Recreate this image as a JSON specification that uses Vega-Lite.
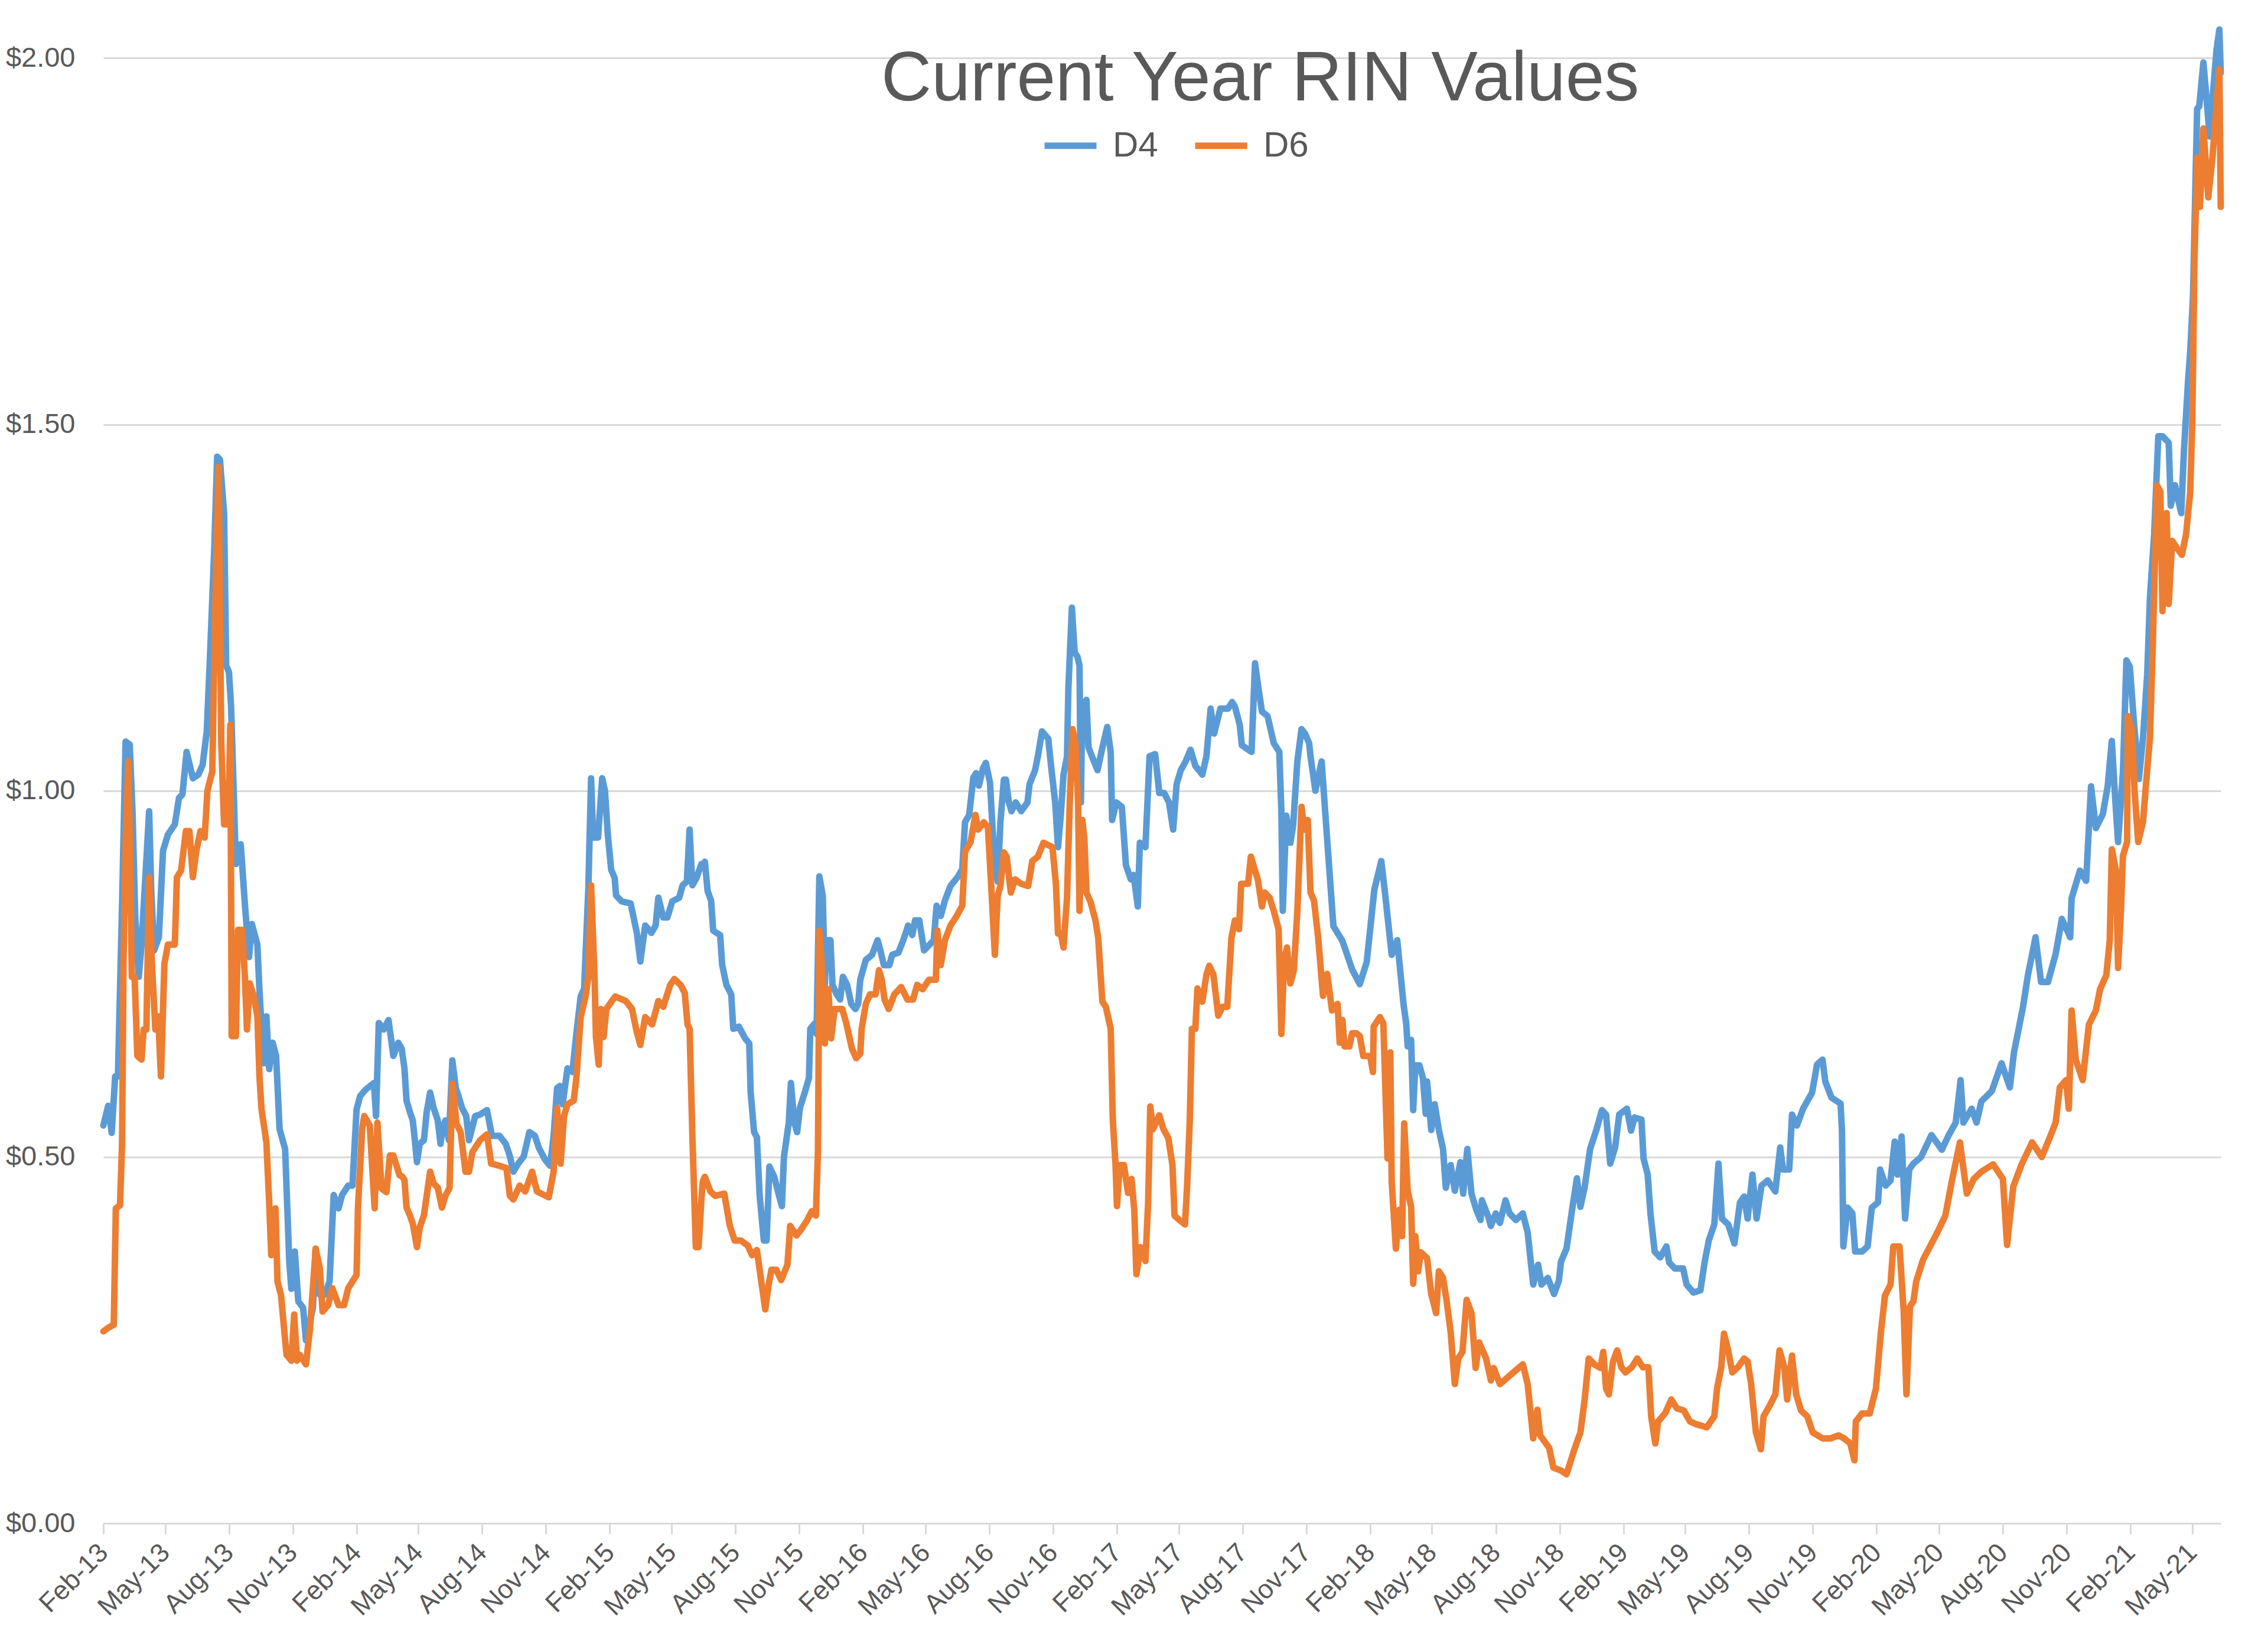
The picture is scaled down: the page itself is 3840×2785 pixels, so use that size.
{
  "$schema": "https://vega.github.io/schema/vega-lite/v6.json",
  "width": 3585,
  "height": 2555,
  "autosize": {"type": "none"},
  "padding": {"left": 175, "top": 24, "right": 80, "bottom": 206},
  "background": "#FFFFFF",
  "config": {
    "view": {"stroke": null},
    "font": "Liberation Sans"
  },
  "title": {
    "text": "Current Year RIN Values",
    "anchor": "start",
    "frame": "group",
    "orient": "top",
    "offset": 0,
    "dx": 1317,
    "dy": 264,
    "baseline": "alphabetic",
    "font": "Liberation Sans",
    "fontSize": 118,
    "fontWeight": "normal",
    "color": "#595959"
  },
  "data": {
    "values": [
      {"d":"2013-02-01","s":"D4","v":0.543},{"d":"2013-02-08","s":"D4","v":0.57},{"d":"2013-02-13","s":"D4","v":0.533},{"d":"2013-02-18","s":"D4","v":0.61},{"d":"2013-02-22","s":"D4","v":0.61},{"d":"2013-02-28","s":"D4","v":0.845},{"d":"2013-03-05","s":"D4","v":1.067},{"d":"2013-03-11","s":"D4","v":1.063},{"d":"2013-03-15","s":"D4","v":0.972},{"d":"2013-03-19","s":"D4","v":0.827},{"d":"2013-03-24","s":"D4","v":0.746},{"d":"2013-03-28","s":"D4","v":0.79},{"d":"2013-04-08","s":"D4","v":0.972},{"d":"2013-04-11","s":"D4","v":0.864},{"d":"2013-04-15","s":"D4","v":0.782},{"d":"2013-04-22","s":"D4","v":0.8},{"d":"2013-04-28","s":"D4","v":0.918},{"d":"2013-05-05","s":"D4","v":0.94},{"d":"2013-05-15","s":"D4","v":0.954},{"d":"2013-05-21","s":"D4","v":0.99},{"d":"2013-05-26","s":"D4","v":0.995},{"d":"2013-06-01","s":"D4","v":1.053},{"d":"2013-06-10","s":"D4","v":1.017},{"d":"2013-06-18","s":"D4","v":1.022},{"d":"2013-06-24","s":"D4","v":1.035},{"d":"2013-06-30","s":"D4","v":1.08},{"d":"2013-07-05","s":"D4","v":1.19},{"d":"2013-07-11","s":"D4","v":1.334},{"d":"2013-07-15","s":"D4","v":1.456},{"d":"2013-07-19","s":"D4","v":1.452},{"d":"2013-07-25","s":"D4","v":1.379},{"d":"2013-07-28","s":"D4","v":1.171},{"d":"2013-08-01","s":"D4","v":1.162},{"d":"2013-08-04","s":"D4","v":1.117},{"d":"2013-08-07","s":"D4","v":1.026},{"d":"2013-08-11","s":"D4","v":0.9},{"d":"2013-08-18","s":"D4","v":0.927},{"d":"2013-08-24","s":"D4","v":0.845},{"d":"2013-08-30","s":"D4","v":0.773},{"d":"2013-09-03","s":"D4","v":0.818},{"d":"2013-09-11","s":"D4","v":0.79},{"d":"2013-09-14","s":"D4","v":0.728},{"d":"2013-09-20","s":"D4","v":0.628},{"d":"2013-09-24","s":"D4","v":0.692},{"d":"2013-09-28","s":"D4","v":0.62},{"d":"2013-10-03","s":"D4","v":0.656},{"d":"2013-10-08","s":"D4","v":0.638},{"d":"2013-10-13","s":"D4","v":0.538},{"d":"2013-10-21","s":"D4","v":0.511},{"d":"2013-10-27","s":"D4","v":0.357},{"d":"2013-10-30","s":"D4","v":0.32},{"d":"2013-11-04","s":"D4","v":0.371},{"d":"2013-11-09","s":"D4","v":0.303},{"d":"2013-11-16","s":"D4","v":0.294},{"d":"2013-11-20","s":"D4","v":0.25},{"d":"2013-11-24","s":"D4","v":0.267},{"d":"2013-11-30","s":"D4","v":0.294},{"d":"2013-12-04","s":"D4","v":0.375},{"d":"2013-12-10","s":"D4","v":0.312},{"d":"2013-12-17","s":"D4","v":0.312},{"d":"2013-12-24","s":"D4","v":0.33},{"d":"2013-12-30","s":"D4","v":0.448},{"d":"2014-01-06","s":"D4","v":0.43},{"d":"2014-01-11","s":"D4","v":0.448},{"d":"2014-01-20","s":"D4","v":0.461},{"d":"2014-01-26","s":"D4","v":0.461},{"d":"2014-02-01","s":"D4","v":0.565},{"d":"2014-02-06","s":"D4","v":0.583},{"d":"2014-02-14","s":"D4","v":0.592},{"d":"2014-02-26","s":"D4","v":0.601},{"d":"2014-03-01","s":"D4","v":0.556},{"d":"2014-03-05","s":"D4","v":0.683},{"d":"2014-03-12","s":"D4","v":0.674},{"d":"2014-03-19","s":"D4","v":0.687},{"d":"2014-03-26","s":"D4","v":0.638},{"d":"2014-04-02","s":"D4","v":0.656},
      {"d":"2014-04-07","s":"D4","v":0.648},{"d":"2014-04-11","s":"D4","v":0.621},{"d":"2014-04-14","s":"D4","v":0.577},{"d":"2014-04-19","s":"D4","v":0.561},{"d":"2014-04-23","s":"D4","v":0.55},{"d":"2014-04-26","s":"D4","v":0.523},{"d":"2014-04-29","s":"D4","v":0.493},{"d":"2014-05-03","s":"D4","v":0.518},{"d":"2014-05-09","s":"D4","v":0.523},{"d":"2014-05-13","s":"D4","v":0.561},{"d":"2014-05-18","s":"D4","v":0.588},{"d":"2014-05-23","s":"D4","v":0.567},{"d":"2014-05-29","s":"D4","v":0.55},{"d":"2014-06-02","s":"D4","v":0.518},{"d":"2014-06-05","s":"D4","v":0.54},{"d":"2014-06-09","s":"D4","v":0.55},{"d":"2014-06-14","s":"D4","v":0.523},{"d":"2014-06-19","s":"D4","v":0.632},{"d":"2014-06-24","s":"D4","v":0.594},{"d":"2014-06-28","s":"D4","v":0.583},{"d":"2014-07-03","s":"D4","v":0.567},{"d":"2014-07-09","s":"D4","v":0.556},{"d":"2014-07-13","s":"D4","v":0.523},{"d":"2014-07-22","s":"D4","v":0.556},{"d":"2014-07-29","s":"D4","v":0.558},{"d":"2014-08-08","s":"D4","v":0.564},{"d":"2014-08-15","s":"D4","v":0.529},{"d":"2014-08-26","s":"D4","v":0.529},{"d":"2014-09-04","s":"D4","v":0.518},{"d":"2014-09-10","s":"D4","v":0.501},{"d":"2014-09-15","s":"D4","v":0.48},{"d":"2014-09-22","s":"D4","v":0.491},{"d":"2014-09-30","s":"D4","v":0.501},{"d":"2014-10-08","s":"D4","v":0.534},{"d":"2014-10-16","s":"D4","v":0.529},{"d":"2014-10-22","s":"D4","v":0.512},{"d":"2014-10-31","s":"D4","v":0.496},{"d":"2014-11-07","s":"D4","v":0.488},{"d":"2014-11-12","s":"D4","v":0.529},{"d":"2014-11-17","s":"D4","v":0.594},{"d":"2014-11-21","s":"D4","v":0.597},{"d":"2014-11-25","s":"D4","v":0.572},{"d":"2014-12-02","s":"D4","v":0.621},{"d":"2014-12-09","s":"D4","v":0.616},{"d":"2014-12-15","s":"D4","v":0.67},{"d":"2014-12-21","s":"D4","v":0.719},{"d":"2014-12-26","s":"D4","v":0.73},{"d":"2015-01-01","s":"D4","v":0.865},{"d":"2015-01-05","s":"D4","v":1.017},{"d":"2015-01-08","s":"D4","v":0.936},{"d":"2015-01-15","s":"D4","v":0.936},{"d":"2015-01-21","s":"D4","v":1.017},{"d":"2015-01-25","s":"D4","v":1.0},{"d":"2015-01-29","s":"D4","v":0.941},{"d":"2015-02-03","s":"D4","v":0.892},{"d":"2015-02-08","s":"D4","v":0.881},{"d":"2015-02-10","s":"D4","v":0.857},{"d":"2015-02-18","s":"D4","v":0.849},{"d":"2015-03-03","s":"D4","v":0.846},{"d":"2015-03-12","s":"D4","v":0.806},{"d":"2015-03-17","s":"D4","v":0.767},{"d":"2015-03-24","s":"D4","v":0.816},{"d":"2015-04-02","s":"D4","v":0.806},{"d":"2015-04-08","s":"D4","v":0.816},{"d":"2015-04-12","s":"D4","v":0.854},{"d":"2015-04-19","s":"D4","v":0.827},{"d":"2015-04-25","s":"D4","v":0.827},{"d":"2015-05-02","s":"D4","v":0.849},{"d":"2015-05-12","s":"D4","v":0.854},{"d":"2015-05-17","s":"D4","v":0.871},{"d":"2015-05-23","s":"D4","v":0.876},{"d":"2015-05-27","s":"D4","v":0.947},{"d":"2015-05-31","s":"D4","v":0.871},{"d":"2015-06-06","s":"D4","v":0.881},{"d":"2015-06-13","s":"D4","v":0.9},
      {"d":"2015-06-15","s":"D4","v":0.897},{"d":"2015-06-18","s":"D4","v":0.903},{"d":"2015-06-22","s":"D4","v":0.863},{"d":"2015-06-27","s":"D4","v":0.85},{"d":"2015-06-30","s":"D4","v":0.809},{"d":"2015-07-10","s":"D4","v":0.803},{"d":"2015-07-13","s":"D4","v":0.762},{"d":"2015-07-19","s":"D4","v":0.735},{"d":"2015-07-26","s":"D4","v":0.722},{"d":"2015-07-29","s":"D4","v":0.675},{"d":"2015-08-06","s":"D4","v":0.678},{"d":"2015-08-15","s":"D4","v":0.662},{"d":"2015-08-21","s":"D4","v":0.655},{"d":"2015-08-23","s":"D4","v":0.588},{"d":"2015-08-28","s":"D4","v":0.534},{"d":"2015-09-01","s":"D4","v":0.527},{"d":"2015-09-05","s":"D4","v":0.447},{"d":"2015-09-11","s":"D4","v":0.386},{"d":"2015-09-15","s":"D4","v":0.386},{"d":"2015-09-19","s":"D4","v":0.487},{"d":"2015-09-26","s":"D4","v":0.473},{"d":"2015-10-03","s":"D4","v":0.447},{"d":"2015-10-07","s":"D4","v":0.433},{"d":"2015-10-10","s":"D4","v":0.5},{"d":"2015-10-17","s":"D4","v":0.547},{"d":"2015-10-20","s":"D4","v":0.601},{"d":"2015-10-25","s":"D4","v":0.547},{"d":"2015-10-29","s":"D4","v":0.534},{"d":"2015-11-02","s":"D4","v":0.567},{"d":"2015-11-09","s":"D4","v":0.588},{"d":"2015-11-15","s":"D4","v":0.608},{"d":"2015-11-17","s":"D4","v":0.675},{"d":"2015-11-23","s":"D4","v":0.682},{"d":"2015-11-26","s":"D4","v":0.668},{"d":"2015-11-30","s":"D4","v":0.883},{"d":"2015-12-05","s":"D4","v":0.856},{"d":"2015-12-08","s":"D4","v":0.735},{"d":"2015-12-10","s":"D4","v":0.796},{"d":"2015-12-16","s":"D4","v":0.796},{"d":"2015-12-19","s":"D4","v":0.735},{"d":"2015-12-25","s":"D4","v":0.722},{"d":"2015-12-30","s":"D4","v":0.715},{"d":"2016-01-03","s":"D4","v":0.746},{"d":"2016-01-09","s":"D4","v":0.735},{"d":"2016-01-15","s":"D4","v":0.709},{"d":"2016-01-21","s":"D4","v":0.702},{"d":"2016-01-25","s":"D4","v":0.709},{"d":"2016-01-28","s":"D4","v":0.742},{"d":"2016-02-05","s":"D4","v":0.769},{"d":"2016-02-14","s":"D4","v":0.776},{"d":"2016-02-22","s":"D4","v":0.796},{"d":"2016-02-26","s":"D4","v":0.782},{"d":"2016-03-02","s":"D4","v":0.762},{"d":"2016-03-10","s":"D4","v":0.762},{"d":"2016-03-14","s":"D4","v":0.776},{"d":"2016-03-23","s":"D4","v":0.779},{"d":"2016-03-30","s":"D4","v":0.796},{"d":"2016-04-06","s":"D4","v":0.816},{"d":"2016-04-12","s":"D4","v":0.803},{"d":"2016-04-16","s":"D4","v":0.823},{"d":"2016-04-22","s":"D4","v":0.823},{"d":"2016-04-29","s":"D4","v":0.782},{"d":"2016-05-06","s":"D4","v":0.789},{"d":"2016-05-13","s":"D4","v":0.796},{"d":"2016-05-17","s":"D4","v":0.843},{"d":"2016-05-23","s":"D4","v":0.829},{"d":"2016-05-29","s":"D4","v":0.85},{"d":"2016-06-06","s":"D4","v":0.87},{"d":"2016-06-17","s":"D4","v":0.883},{"d":"2016-06-23","s":"D4","v":0.893},{"d":"2016-06-27","s":"D4","v":0.957},{"d":"2016-07-03","s":"D4","v":0.967},{"d":"2016-07-09","s":"D4","v":1.018},{"d":"2016-07-13","s":"D4","v":1.024},{"d":"2016-07-17","s":"D4","v":1.007},{"d":"2016-07-23","s":"D4","v":1.031},{"d":"2016-07-27","s":"D4","v":1.038},{"d":"2016-08-02","s":"D4","v":1.011},{"d":"2016-08-08","s":"D4","v":0.91},{"d":"2016-08-13","s":"D4","v":0.876},{"d":"2016-08-17","s":"D4","v":0.957},
      {"d":"2016-08-22","s":"D4","v":1.015},{"d":"2016-08-25","s":"D4","v":1.015},{"d":"2016-08-29","s":"D4","v":0.985},{"d":"2016-09-02","s":"D4","v":0.972},{"d":"2016-09-08","s":"D4","v":0.984},{"d":"2016-09-16","s":"D4","v":0.972},{"d":"2016-09-25","s":"D4","v":0.984},{"d":"2016-09-28","s":"D4","v":1.009},{"d":"2016-10-06","s":"D4","v":1.028},{"d":"2016-10-10","s":"D4","v":1.047},{"d":"2016-10-16","s":"D4","v":1.081},{"d":"2016-10-25","s":"D4","v":1.071},{"d":"2016-10-29","s":"D4","v":1.034},{"d":"2016-11-04","s":"D4","v":0.984},{"d":"2016-11-08","s":"D4","v":0.923},{"d":"2016-11-12","s":"D4","v":0.966},{"d":"2016-11-16","s":"D4","v":1.022},{"d":"2016-11-21","s":"D4","v":1.047},{"d":"2016-11-23","s":"D4","v":1.14},{"d":"2016-11-28","s":"D4","v":1.25},{"d":"2016-12-02","s":"D4","v":1.189},{"d":"2016-12-06","s":"D4","v":1.183},{"d":"2016-12-09","s":"D4","v":1.171},{"d":"2016-12-11","s":"D4","v":0.984},{"d":"2016-12-13","s":"D4","v":1.115},{"d":"2016-12-19","s":"D4","v":1.124},{"d":"2016-12-22","s":"D4","v":1.059},{"d":"2016-12-27","s":"D4","v":1.047},{"d":"2017-01-04","s":"D4","v":1.028},{"d":"2017-01-11","s":"D4","v":1.059},{"d":"2017-01-18","s":"D4","v":1.087},{"d":"2017-01-23","s":"D4","v":1.053},{"d":"2017-01-25","s":"D4","v":0.96},{"d":"2017-01-31","s":"D4","v":0.984},{"d":"2017-02-08","s":"D4","v":0.978},{"d":"2017-02-14","s":"D4","v":0.898},{"d":"2017-02-21","s":"D4","v":0.879},{"d":"2017-02-25","s":"D4","v":0.885},{"d":"2017-03-03","s":"D4","v":0.842},{"d":"2017-03-06","s":"D4","v":0.929},{"d":"2017-03-14","s":"D4","v":0.923},{"d":"2017-03-20","s":"D4","v":1.047},{"d":"2017-03-28","s":"D4","v":1.05},{"d":"2017-04-03","s":"D4","v":0.997},{"d":"2017-04-10","s":"D4","v":0.997},{"d":"2017-04-17","s":"D4","v":0.984},{"d":"2017-04-23","s":"D4","v":0.947},{"d":"2017-04-28","s":"D4","v":1.009},{"d":"2017-05-04","s":"D4","v":1.028},{"d":"2017-05-11","s":"D4","v":1.04},{"d":"2017-05-18","s":"D4","v":1.056},{"d":"2017-05-25","s":"D4","v":1.034},{"d":"2017-06-04","s":"D4","v":1.022},{"d":"2017-06-10","s":"D4","v":1.047},{"d":"2017-06-16","s":"D4","v":1.112},{"d":"2017-06-21","s":"D4","v":1.078},{"d":"2017-06-30","s":"D4","v":1.112},{"d":"2017-07-11","s":"D4","v":1.112},{"d":"2017-07-17","s":"D4","v":1.121},{"d":"2017-07-21","s":"D4","v":1.115},{"d":"2017-07-28","s":"D4","v":1.09},{"d":"2017-07-31","s":"D4","v":1.062},{"d":"2017-08-14","s":"D4","v":1.053},{"d":"2017-08-19","s":"D4","v":1.174},{"d":"2017-08-23","s":"D4","v":1.146},{"d":"2017-08-29","s":"D4","v":1.108},{"d":"2017-09-06","s":"D4","v":1.102},{"d":"2017-09-15","s":"D4","v":1.065},{"d":"2017-09-23","s":"D4","v":1.053},{"d":"2017-09-26","s":"D4","v":0.972},{"d":"2017-09-28","s":"D4","v":0.836},{"d":"2017-10-03","s":"D4","v":0.966},{"d":"2017-10-09","s":"D4","v":0.929},{"d":"2017-10-13","s":"D4","v":0.953},{"d":"2017-10-19","s":"D4","v":1.04},{"d":"2017-10-25","s":"D4","v":1.084},{"d":"2017-10-30","s":"D4","v":1.078},{"d":"2017-11-05","s":"D4","v":1.065},{"d":"2017-11-07","s":"D4","v":1.047},
      {"d":"2017-11-14","s":"D4","v":1.0},{"d":"2017-11-23","s":"D4","v":1.04},{"d":"2017-12-02","s":"D4","v":0.92},{"d":"2017-12-10","s":"D4","v":0.815},{"d":"2017-12-23","s":"D4","v":0.795},{"d":"2018-01-06","s":"D4","v":0.756},{"d":"2018-01-17","s":"D4","v":0.736},{"d":"2018-01-27","s":"D4","v":0.766},{"d":"2018-02-07","s":"D4","v":0.865},{"d":"2018-02-17","s":"D4","v":0.904},{"d":"2018-02-23","s":"D4","v":0.855},{"d":"2018-03-04","s":"D4","v":0.776},{"d":"2018-03-12","s":"D4","v":0.796},
      {"d":"2018-03-21","s":"D4","v":0.709},{"d":"2018-03-25","s":"D4","v":0.682},{"d":"2018-03-27","s":"D4","v":0.651},{"d":"2018-04-01","s":"D4","v":0.66},{"d":"2018-04-04","s":"D4","v":0.564},{"d":"2018-04-07","s":"D4","v":0.625},{"d":"2018-04-13","s":"D4","v":0.625},{"d":"2018-04-18","s":"D4","v":0.608},{"d":"2018-04-22","s":"D4","v":0.559},{"d":"2018-04-24","s":"D4","v":0.603},{"d":"2018-04-30","s":"D4","v":0.537},{"d":"2018-05-05","s":"D4","v":0.572},{"d":"2018-05-11","s":"D4","v":0.537},{"d":"2018-05-17","s":"D4","v":0.511},{"d":"2018-05-21","s":"D4","v":0.458},{"d":"2018-05-28","s":"D4","v":0.489},{"d":"2018-06-03","s":"D4","v":0.454},{"d":"2018-06-11","s":"D4","v":0.493},{"d":"2018-06-15","s":"D4","v":0.45},{"d":"2018-06-21","s":"D4","v":0.511},{"d":"2018-06-27","s":"D4","v":0.45},{"d":"2018-07-04","s":"D4","v":0.428},{"d":"2018-07-10","s":"D4","v":0.414},{"d":"2018-07-12","s":"D4","v":0.441},{"d":"2018-07-21","s":"D4","v":0.419},{"d":"2018-07-25","s":"D4","v":0.406},{"d":"2018-08-01","s":"D4","v":0.423},{"d":"2018-08-07","s":"D4","v":0.41},{"d":"2018-08-15","s":"D4","v":0.441},{"d":"2018-08-21","s":"D4","v":0.423},{"d":"2018-08-30","s":"D4","v":0.414},{"d":"2018-09-09","s":"D4","v":0.423},{"d":"2018-09-16","s":"D4","v":0.397},{"d":"2018-09-24","s":"D4","v":0.326},{"d":"2018-10-01","s":"D4","v":0.353},{"d":"2018-10-06","s":"D4","v":0.326},{"d":"2018-10-15","s":"D4","v":0.335},{"d":"2018-10-24","s":"D4","v":0.313},{"d":"2018-10-31","s":"D4","v":0.331},{"d":"2018-11-03","s":"D4","v":0.357},{"d":"2018-11-11","s":"D4","v":0.375},{"d":"2018-11-19","s":"D4","v":0.428},{"d":"2018-11-26","s":"D4","v":0.471},{"d":"2018-12-01","s":"D4","v":0.432},{"d":"2018-12-07","s":"D4","v":0.458},{"d":"2018-12-15","s":"D4","v":0.511},{"d":"2018-12-24","s":"D4","v":0.537},{"d":"2019-01-01","s":"D4","v":0.564},
      {"d":"2019-01-07","s":"D4","v":0.558},{"d":"2019-01-13","s":"D4","v":0.491},{"d":"2019-01-20","s":"D4","v":0.513},{"d":"2019-01-26","s":"D4","v":0.558},{"d":"2019-02-06","s":"D4","v":0.566},{"d":"2019-02-12","s":"D4","v":0.536},{"d":"2019-02-17","s":"D4","v":0.554},{"d":"2019-02-27","s":"D4","v":0.551},{"d":"2019-03-02","s":"D4","v":0.498},{"d":"2019-03-08","s":"D4","v":0.476},{"d":"2019-03-12","s":"D4","v":0.423},{"d":"2019-03-18","s":"D4","v":0.371},{"d":"2019-03-26","s":"D4","v":0.363},{"d":"2019-04-04","s":"D4","v":0.378},{"d":"2019-04-08","s":"D4","v":0.356},{"d":"2019-04-16","s":"D4","v":0.348},{"d":"2019-04-28","s":"D4","v":0.348},{"d":"2019-05-03","s":"D4","v":0.326},{"d":"2019-05-13","s":"D4","v":0.315},{"d":"2019-05-23","s":"D4","v":0.318},{"d":"2019-05-29","s":"D4","v":0.356},{"d":"2019-06-04","s":"D4","v":0.386},{"d":"2019-06-12","s":"D4","v":0.408},{"d":"2019-06-18","s":"D4","v":0.491},{"d":"2019-06-23","s":"D4","v":0.416},{"d":"2019-07-02","s":"D4","v":0.408},{"d":"2019-07-11","s":"D4","v":0.382},{"d":"2019-07-19","s":"D4","v":0.438},{"d":"2019-07-25","s":"D4","v":0.446},{"d":"2019-07-30","s":"D4","v":0.416},{"d":"2019-08-06","s":"D4","v":0.476},{"d":"2019-08-12","s":"D4","v":0.416},{"d":"2019-08-19","s":"D4","v":0.461},{"d":"2019-08-28","s":"D4","v":0.468},{"d":"2019-09-08","s":"D4","v":0.453},{"d":"2019-09-15","s":"D4","v":0.513},{"d":"2019-09-19","s":"D4","v":0.483},{"d":"2019-09-28","s":"D4","v":0.483},{"d":"2019-10-02","s":"D4","v":0.558},{"d":"2019-10-09","s":"D4","v":0.543},{"d":"2019-10-18","s":"D4","v":0.566},{"d":"2019-10-31","s":"D4","v":0.588},{"d":"2019-11-07","s":"D4","v":0.626},{"d":"2019-11-15","s":"D4","v":0.633},{"d":"2019-11-19","s":"D4","v":0.603},{"d":"2019-11-28","s":"D4","v":0.581},{"d":"2019-12-11","s":"D4","v":0.573},{"d":"2019-12-13","s":"D4","v":0.536},{"d":"2019-12-15","s":"D4","v":0.378},{"d":"2019-12-21","s":"D4","v":0.431},{"d":"2019-12-28","s":"D4","v":0.423},{"d":"2020-01-01","s":"D4","v":0.371},{"d":"2020-01-11","s":"D4","v":0.371},{"d":"2020-01-19","s":"D4","v":0.378},{"d":"2020-01-25","s":"D4","v":0.431},{"d":"2020-02-03","s":"D4","v":0.438},{"d":"2020-02-06","s":"D4","v":0.483},{"d":"2020-02-14","s":"D4","v":0.461},{"d":"2020-02-21","s":"D4","v":0.468},{"d":"2020-02-27","s":"D4","v":0.521},{"d":"2020-03-02","s":"D4","v":0.476},{"d":"2020-03-08","s":"D4","v":0.528},{"d":"2020-03-13","s":"D4","v":0.416},{"d":"2020-03-19","s":"D4","v":0.483},{"d":"2020-03-25","s":"D4","v":0.491},
      {"d":"2020-04-05","s":"D4","v":0.5},{"d":"2020-04-20","s":"D4","v":0.53},{"d":"2020-05-05","s":"D4","v":0.51},{"d":"2020-05-15","s":"D4","v":0.53},{"d":"2020-05-25","s":"D4","v":0.547},{"d":"2020-06-01","s":"D4","v":0.605},{"d":"2020-06-05","s":"D4","v":0.547},{"d":"2020-06-17","s":"D4","v":0.566},{"d":"2020-06-24","s":"D4","v":0.547},{"d":"2020-07-01","s":"D4","v":0.576},{"d":"2020-07-16","s":"D4","v":0.59},{"d":"2020-07-30","s":"D4","v":0.628},{"d":"2020-08-11","s":"D4","v":0.595},{"d":"2020-08-17","s":"D4","v":0.643},{"d":"2020-08-25","s":"D4","v":0.681},{"d":"2020-08-30","s":"D4","v":0.705},{"d":"2020-09-06","s":"D4","v":0.748},{"d":"2020-09-17","s":"D4","v":0.8},{"d":"2020-09-25","s":"D4","v":0.739},{"d":"2020-10-05","s":"D4","v":0.739},{"d":"2020-10-16","s":"D4","v":0.777},{"d":"2020-10-25","s":"D4","v":0.825},{"d":"2020-11-06","s":"D4","v":0.8},{"d":"2020-11-08","s":"D4","v":0.853},{"d":"2020-11-20","s":"D4","v":0.891},{"d":"2020-11-29","s":"D4","v":0.877},{"d":"2020-12-06","s":"D4","v":1.006},{"d":"2020-12-13","s":"D4","v":0.949},{"d":"2020-12-23","s":"D4","v":0.968},{"d":"2020-12-30","s":"D4","v":1.006},{"d":"2021-01-05","s":"D4","v":1.068},{"d":"2021-01-10","s":"D4","v":0.987},{"d":"2021-01-14","s":"D4","v":0.93},{"d":"2021-01-21","s":"D4","v":1.025},{"d":"2021-01-26","s":"D4","v":1.178},{"d":"2021-01-31","s":"D4","v":1.169},{"d":"2021-02-06","s":"D4","v":1.092},{"d":"2021-02-13","s":"D4","v":1.016},{"d":"2021-02-19","s":"D4","v":1.073},{"d":"2021-02-25","s":"D4","v":1.159},{"d":"2021-03-01","s":"D4","v":1.264},{"d":"2021-03-07","s":"D4","v":1.35},{"d":"2021-03-13","s":"D4","v":1.484},{"d":"2021-03-19","s":"D4","v":1.484},{"d":"2021-03-28","s":"D4","v":1.475},{"d":"2021-03-31","s":"D4","v":1.389},{"d":"2021-04-06","s":"D4","v":1.417},{"d":"2021-04-15","s":"D4","v":1.379},{"d":"2021-04-19","s":"D4","v":1.465},{"d":"2021-04-25","s":"D4","v":1.561},{"d":"2021-04-28","s":"D4","v":1.599},{"d":"2021-05-02","s":"D4","v":1.675},{"d":"2021-05-06","s":"D4","v":1.85},{"d":"2021-05-08","s":"D4","v":1.931},{"d":"2021-05-11","s":"D4","v":1.934},{"d":"2021-05-17","s":"D4","v":1.994},{"d":"2021-05-21","s":"D4","v":1.95},{"d":"2021-05-26","s":"D4","v":1.893},{"d":"2021-05-30","s":"D4","v":1.943},{"d":"2021-06-05","s":"D4","v":2.012},{"d":"2021-06-09","s":"D4","v":2.039},{"d":"2021-06-11","s":"D4","v":1.98},

      {"d":"2013-02-01","s":"D6","v":0.262},{"d":"2013-02-08","s":"D6","v":0.267},{"d":"2013-02-16","s":"D6","v":0.271},{"d":"2013-02-19","s":"D6","v":0.43},{"d":"2013-02-25","s":"D6","v":0.434},{"d":"2013-02-28","s":"D6","v":0.52},{"d":"2013-03-02","s":"D6","v":0.764},{"d":"2013-03-05","s":"D6","v":0.927},{"d":"2013-03-09","s":"D6","v":1.04},{"d":"2013-03-12","s":"D6","v":0.882},{"d":"2013-03-14","s":"D6","v":0.746},{"d":"2013-03-18","s":"D6","v":0.746},{"d":"2013-03-22","s":"D6","v":0.638},{"d":"2013-03-28","s":"D6","v":0.633},{"d":"2013-03-31","s":"D6","v":0.674},{"d":"2013-04-04","s":"D6","v":0.674},{"d":"2013-04-08","s":"D6","v":0.882},{"d":"2013-04-12","s":"D6","v":0.764},{"d":"2013-04-17","s":"D6","v":0.674},{"d":"2013-04-21","s":"D6","v":0.692},{"d":"2013-04-25","s":"D6","v":0.61},{"d":"2013-04-30","s":"D6","v":0.764},{"d":"2013-05-05","s":"D6","v":0.79},{"d":"2013-05-15","s":"D6","v":0.79},{"d":"2013-05-18","s":"D6","v":0.882},{"d":"2013-05-24","s":"D6","v":0.891},{"d":"2013-05-31","s":"D6","v":0.945},{"d":"2013-06-05","s":"D6","v":0.945},{"d":"2013-06-10","s":"D6","v":0.882},{"d":"2013-06-15","s":"D6","v":0.918},{"d":"2013-06-21","s":"D6","v":0.945},{"d":"2013-06-27","s":"D6","v":0.936},{"d":"2013-07-01","s":"D6","v":1.0},{"d":"2013-07-08","s":"D6","v":1.026},{"d":"2013-07-12","s":"D6","v":1.243},{"d":"2013-07-17","s":"D6","v":1.442},{"d":"2013-07-21","s":"D6","v":1.063},{"d":"2013-07-25","s":"D6","v":0.954},{"d":"2013-07-31","s":"D6","v":0.954},{"d":"2013-08-03","s":"D6","v":1.09},{"d":"2013-08-05","s":"D6","v":0.665},{"d":"2013-08-11","s":"D6","v":0.665},{"d":"2013-08-14","s":"D6","v":0.81},{"d":"2013-08-20","s":"D6","v":0.81},{"d":"2013-08-24","s":"D6","v":0.746},{"d":"2013-08-27","s":"D6","v":0.674},{"d":"2013-08-31","s":"D6","v":0.737},{"d":"2013-09-06","s":"D6","v":0.719},{"d":"2013-09-11","s":"D6","v":0.692},{"d":"2013-09-14","s":"D6","v":0.61},{"d":"2013-09-17","s":"D6","v":0.565},{"d":"2013-09-24","s":"D6","v":0.52},{"d":"2013-09-28","s":"D6","v":0.438},{"d":"2013-10-01","s":"D6","v":0.366},{"d":"2013-10-07","s":"D6","v":0.43},{"d":"2013-10-10","s":"D6","v":0.33},{"d":"2013-10-15","s":"D6","v":0.312},{"d":"2013-10-23","s":"D6","v":0.23},{"d":"2013-10-30","s":"D6","v":0.222},{"d":"2013-11-03","s":"D6","v":0.285},{"d":"2013-11-07","s":"D6","v":0.222},{"d":"2013-11-11","s":"D6","v":0.23},{"d":"2013-11-20","s":"D6","v":0.217},{"d":"2013-11-26","s":"D6","v":0.267},{"d":"2013-12-04","s":"D6","v":0.375},{"d":"2013-12-10","s":"D6","v":0.348},{"d":"2013-12-14","s":"D6","v":0.289},{"d":"2013-12-22","s":"D6","v":0.298},{"d":"2013-12-28","s":"D6","v":0.321},{"d":"2014-01-06","s":"D6","v":0.298},{"d":"2014-01-14","s":"D6","v":0.298},{"d":"2014-01-20","s":"D6","v":0.321},{"d":"2014-02-01","s":"D6","v":0.339},{"d":"2014-02-03","s":"D6","v":0.43},{"d":"2014-02-09","s":"D6","v":0.538},{"d":"2014-02-12","s":"D6","v":0.556},{"d":"2014-02-20","s":"D6","v":0.543},{"d":"2014-02-27","s":"D6","v":0.43},{"d":"2014-03-03","s":"D6","v":0.547},{"d":"2014-03-09","s":"D6","v":0.457},{"d":"2014-03-16","s":"D6","v":0.452},{"d":"2014-03-21","s":"D6","v":0.502},{"d":"2014-03-26","s":"D6","v":0.502},{"d":"2014-04-04","s":"D6","v":0.475},
      {"d":"2014-04-07","s":"D6","v":0.474},{"d":"2014-04-11","s":"D6","v":0.469},{"d":"2014-04-14","s":"D6","v":0.431},{"d":"2014-04-19","s":"D6","v":0.42},{"d":"2014-04-23","s":"D6","v":0.409},{"d":"2014-04-29","s":"D6","v":0.377},{"d":"2014-05-03","s":"D6","v":0.404},{"d":"2014-05-09","s":"D6","v":0.42},{"d":"2014-05-18","s":"D6","v":0.48},{"d":"2014-05-23","s":"D6","v":0.464},{"d":"2014-05-29","s":"D6","v":0.458},{"d":"2014-06-04","s":"D6","v":0.431},{"d":"2014-06-09","s":"D6","v":0.447},{"d":"2014-06-15","s":"D6","v":0.458},{"d":"2014-06-19","s":"D6","v":0.6},{"d":"2014-06-25","s":"D6","v":0.545},{"d":"2014-07-01","s":"D6","v":0.534},{"d":"2014-07-08","s":"D6","v":0.48},{"d":"2014-07-13","s":"D6","v":0.48},{"d":"2014-07-18","s":"D6","v":0.507},{"d":"2014-07-29","s":"D6","v":0.523},{"d":"2014-08-08","s":"D6","v":0.531},{"d":"2014-08-14","s":"D6","v":0.491},{"d":"2014-08-26","s":"D6","v":0.488},{"d":"2014-09-05","s":"D6","v":0.485},{"d":"2014-09-10","s":"D6","v":0.447},{"d":"2014-09-15","s":"D6","v":0.442},{"d":"2014-09-24","s":"D6","v":0.461},{"d":"2014-10-02","s":"D6","v":0.453},{"d":"2014-10-12","s":"D6","v":0.48},{"d":"2014-10-19","s":"D6","v":0.453},{"d":"2014-11-05","s":"D6","v":0.445},{"d":"2014-11-12","s":"D6","v":0.48},{"d":"2014-11-17","s":"D6","v":0.567},{"d":"2014-11-22","s":"D6","v":0.491},{"d":"2014-11-27","s":"D6","v":0.556},{"d":"2014-12-02","s":"D6","v":0.572},{"d":"2014-12-11","s":"D6","v":0.577},{"d":"2014-12-15","s":"D6","v":0.61},{"d":"2014-12-21","s":"D6","v":0.691},{"d":"2014-12-28","s":"D6","v":0.719},{"d":"2015-01-01","s":"D6","v":0.746},{"d":"2015-01-05","s":"D6","v":0.871},{"d":"2015-01-10","s":"D6","v":0.746},{"d":"2015-01-12","s":"D6","v":0.664},{"d":"2015-01-16","s":"D6","v":0.626},{"d":"2015-01-19","s":"D6","v":0.702},{"d":"2015-01-23","s":"D6","v":0.664},{"d":"2015-01-27","s":"D6","v":0.702},{"d":"2015-02-04","s":"D6","v":0.713},{"d":"2015-02-09","s":"D6","v":0.719},{"d":"2015-02-24","s":"D6","v":0.713},{"d":"2015-03-05","s":"D6","v":0.702},{"d":"2015-03-12","s":"D6","v":0.67},{"d":"2015-03-17","s":"D6","v":0.653},{"d":"2015-03-24","s":"D6","v":0.691},{"d":"2015-04-03","s":"D6","v":0.681},{"d":"2015-04-12","s":"D6","v":0.713},{"d":"2015-04-19","s":"D6","v":0.705},{"d":"2015-04-29","s":"D6","v":0.735},{"d":"2015-05-05","s":"D6","v":0.743},{"d":"2015-05-14","s":"D6","v":0.735},{"d":"2015-05-20","s":"D6","v":0.724},{"d":"2015-05-24","s":"D6","v":0.681},{"d":"2015-05-27","s":"D6","v":0.675},{"d":"2015-05-31","s":"D6","v":0.529},{"d":"2015-06-05","s":"D6","v":0.377},{"d":"2015-06-09","s":"D6","v":0.377},{"d":"2015-06-13","s":"D6","v":0.442},
      {"d":"2015-06-15","s":"D6","v":0.467},{"d":"2015-06-18","s":"D6","v":0.473},{"d":"2015-06-26","s":"D6","v":0.453},{"d":"2015-07-03","s":"D6","v":0.447},{"d":"2015-07-16","s":"D6","v":0.45},{"d":"2015-07-24","s":"D6","v":0.406},{"d":"2015-07-31","s":"D6","v":0.386},{"d":"2015-08-09","s":"D6","v":0.386},{"d":"2015-08-19","s":"D6","v":0.379},{"d":"2015-08-25","s":"D6","v":0.366},{"d":"2015-09-01","s":"D6","v":0.373},{"d":"2015-09-08","s":"D6","v":0.326},{"d":"2015-09-13","s":"D6","v":0.292},{"d":"2015-09-18","s":"D6","v":0.326},{"d":"2015-09-22","s":"D6","v":0.346},{"d":"2015-09-29","s":"D6","v":0.346},{"d":"2015-10-06","s":"D6","v":0.332},{"d":"2015-10-15","s":"D6","v":0.353},{"d":"2015-10-19","s":"D6","v":0.406},{"d":"2015-10-28","s":"D6","v":0.393},{"d":"2015-11-03","s":"D6","v":0.4},{"d":"2015-11-12","s":"D6","v":0.413},{"d":"2015-11-19","s":"D6","v":0.426},{"d":"2015-11-25","s":"D6","v":0.42},{"d":"2015-11-28","s":"D6","v":0.507},{"d":"2015-11-29","s":"D6","v":0.641},{"d":"2015-11-30","s":"D6","v":0.809},{"d":"2015-12-05","s":"D6","v":0.742},{"d":"2015-12-08","s":"D6","v":0.655},{"d":"2015-12-13","s":"D6","v":0.729},{"d":"2015-12-17","s":"D6","v":0.662},{"d":"2015-12-22","s":"D6","v":0.702},{"d":"2016-01-02","s":"D6","v":0.702},{"d":"2016-01-08","s":"D6","v":0.682},{"d":"2016-01-16","s":"D6","v":0.648},{"d":"2016-01-22","s":"D6","v":0.635},{"d":"2016-01-28","s":"D6","v":0.641},{"d":"2016-01-30","s":"D6","v":0.675},{"d":"2016-02-05","s":"D6","v":0.709},{"d":"2016-02-11","s":"D6","v":0.722},{"d":"2016-02-19","s":"D6","v":0.722},{"d":"2016-02-24","s":"D6","v":0.755},{"d":"2016-02-28","s":"D6","v":0.742},{"d":"2016-03-03","s":"D6","v":0.715},{"d":"2016-03-09","s":"D6","v":0.702},{"d":"2016-03-17","s":"D6","v":0.722},{"d":"2016-03-27","s":"D6","v":0.732},{"d":"2016-04-05","s":"D6","v":0.715},{"d":"2016-04-13","s":"D6","v":0.715},{"d":"2016-04-19","s":"D6","v":0.735},{"d":"2016-04-27","s":"D6","v":0.729},{"d":"2016-05-06","s":"D6","v":0.742},{"d":"2016-05-16","s":"D6","v":0.742},{"d":"2016-05-18","s":"D6","v":0.809},{"d":"2016-05-23","s":"D6","v":0.762},{"d":"2016-05-29","s":"D6","v":0.796},{"d":"2016-06-06","s":"D6","v":0.816},{"d":"2016-06-15","s":"D6","v":0.829},{"d":"2016-06-23","s":"D6","v":0.843},{"d":"2016-06-27","s":"D6","v":0.917},{"d":"2016-07-05","s":"D6","v":0.93},{"d":"2016-07-12","s":"D6","v":0.967},{"d":"2016-07-16","s":"D6","v":0.947},{"d":"2016-07-24","s":"D6","v":0.957},{"d":"2016-07-30","s":"D6","v":0.95},{"d":"2016-08-03","s":"D6","v":0.883},{"d":"2016-08-09","s":"D6","v":0.776},{"d":"2016-08-13","s":"D6","v":0.856},{"d":"2016-08-17","s":"D6","v":0.87},
      {"d":"2016-08-22","s":"D6","v":0.916},{"d":"2016-08-26","s":"D6","v":0.91},{"d":"2016-09-01","s":"D6","v":0.861},{"d":"2016-09-07","s":"D6","v":0.879},{"d":"2016-09-16","s":"D6","v":0.873},{"d":"2016-09-26","s":"D6","v":0.87},{"d":"2016-10-02","s":"D6","v":0.904},{"d":"2016-10-10","s":"D6","v":0.91},{"d":"2016-10-18","s":"D6","v":0.929},{"d":"2016-10-31","s":"D6","v":0.923},{"d":"2016-11-05","s":"D6","v":0.873},{"d":"2016-11-08","s":"D6","v":0.805},{"d":"2016-11-12","s":"D6","v":0.805},{"d":"2016-11-16","s":"D6","v":0.786},{"d":"2016-11-21","s":"D6","v":0.854},{"d":"2016-11-25","s":"D6","v":0.985},{"d":"2016-11-29","s":"D6","v":1.084},{"d":"2016-12-03","s":"D6","v":1.065},{"d":"2016-12-07","s":"D6","v":0.985},{"d":"2016-12-09","s":"D6","v":0.836},{"d":"2016-12-13","s":"D6","v":0.96},{"d":"2016-12-16","s":"D6","v":0.935},{"d":"2016-12-19","s":"D6","v":0.861},{"d":"2016-12-25","s":"D6","v":0.848},{"d":"2017-01-01","s":"D6","v":0.823},{"d":"2017-01-05","s":"D6","v":0.799},{"d":"2017-01-08","s":"D6","v":0.755},{"d":"2017-01-11","s":"D6","v":0.712},{"d":"2017-01-16","s":"D6","v":0.705},{"d":"2017-01-23","s":"D6","v":0.675},{"d":"2017-01-26","s":"D6","v":0.551},{"d":"2017-01-30","s":"D6","v":0.489},{"d":"2017-02-01","s":"D6","v":0.433},{"d":"2017-02-05","s":"D6","v":0.489},{"d":"2017-02-11","s":"D6","v":0.489},{"d":"2017-02-17","s":"D6","v":0.451},{"d":"2017-02-22","s":"D6","v":0.47},{"d":"2017-02-26","s":"D6","v":0.427},{"d":"2017-03-01","s":"D6","v":0.34},{"d":"2017-03-07","s":"D6","v":0.377},{"d":"2017-03-14","s":"D6","v":0.358},{"d":"2017-03-18","s":"D6","v":0.439},{"d":"2017-03-21","s":"D6","v":0.569},{"d":"2017-03-25","s":"D6","v":0.538},{"d":"2017-04-03","s":"D6","v":0.557},{"d":"2017-04-09","s":"D6","v":0.538},{"d":"2017-04-16","s":"D6","v":0.526},{"d":"2017-04-22","s":"D6","v":0.489},{"d":"2017-04-25","s":"D6","v":0.42},{"d":"2017-05-02","s":"D6","v":0.414},{"d":"2017-05-10","s":"D6","v":0.408},{"d":"2017-05-13","s":"D6","v":0.458},{"d":"2017-05-17","s":"D6","v":0.551},{"d":"2017-05-20","s":"D6","v":0.675},{"d":"2017-05-25","s":"D6","v":0.675},{"d":"2017-05-28","s":"D6","v":0.73},{"d":"2017-06-04","s":"D6","v":0.712},{"d":"2017-06-10","s":"D6","v":0.749},{"d":"2017-06-14","s":"D6","v":0.761},{"d":"2017-06-20","s":"D6","v":0.749},{"d":"2017-06-27","s":"D6","v":0.693},{"d":"2017-07-03","s":"D6","v":0.705},{"d":"2017-07-10","s":"D6","v":0.705},{"d":"2017-07-16","s":"D6","v":0.799},{"d":"2017-07-21","s":"D6","v":0.823},{"d":"2017-07-27","s":"D6","v":0.811},{"d":"2017-07-30","s":"D6","v":0.873},{"d":"2017-08-09","s":"D6","v":0.873},{"d":"2017-08-13","s":"D6","v":0.91},{"d":"2017-08-19","s":"D6","v":0.891},{"d":"2017-08-23","s":"D6","v":0.879},{"d":"2017-08-29","s":"D6","v":0.842},{"d":"2017-09-02","s":"D6","v":0.861},{"d":"2017-09-09","s":"D6","v":0.854},{"d":"2017-09-15","s":"D6","v":0.836},{"d":"2017-09-22","s":"D6","v":0.811},{"d":"2017-09-26","s":"D6","v":0.668},{"d":"2017-09-30","s":"D6","v":0.767},{"d":"2017-10-04","s":"D6","v":0.786},{"d":"2017-10-09","s":"D6","v":0.737},{"d":"2017-10-14","s":"D6","v":0.755},{"d":"2017-10-19","s":"D6","v":0.836},{"d":"2017-10-25","s":"D6","v":0.978},{"d":"2017-10-29","s":"D6","v":0.947},{"d":"2017-11-03","s":"D6","v":0.96},{"d":"2017-11-07","s":"D6","v":0.861},
      {"d":"2017-11-12","s":"D6","v":0.85},{"d":"2017-11-18","s":"D6","v":0.8},{"d":"2017-11-25","s":"D6","v":0.72},{"d":"2017-12-01","s":"D6","v":0.75},{"d":"2017-12-08","s":"D6","v":0.7},
      {"d":"2017-12-16","s":"D6","v":0.709},{"d":"2017-12-19","s":"D6","v":0.656},{"d":"2017-12-23","s":"D6","v":0.687},{"d":"2017-12-26","s":"D6","v":0.651},{"d":"2018-01-02","s":"D6","v":0.651},{"d":"2018-01-06","s":"D6","v":0.669},{"d":"2018-01-12","s":"D6","v":0.669},{"d":"2018-01-17","s":"D6","v":0.665},{"d":"2018-01-22","s":"D6","v":0.638},{"d":"2018-02-01","s":"D6","v":0.638},{"d":"2018-02-05","s":"D6","v":0.616},{"d":"2018-02-06","s":"D6","v":0.678},{"d":"2018-02-15","s":"D6","v":0.691},{"d":"2018-02-20","s":"D6","v":0.682},{"d":"2018-02-23","s":"D6","v":0.59},{"d":"2018-02-26","s":"D6","v":0.498},{"d":"2018-03-02","s":"D6","v":0.643},{"d":"2018-03-04","s":"D6","v":0.467},{"d":"2018-03-10","s":"D6","v":0.375},{"d":"2018-03-15","s":"D6","v":0.428},{"d":"2018-03-19","s":"D6","v":0.392},{"d":"2018-03-22","s":"D6","v":0.546},{"d":"2018-03-27","s":"D6","v":0.454},{"d":"2018-04-01","s":"D6","v":0.432},{"d":"2018-04-04","s":"D6","v":0.327},{"d":"2018-04-07","s":"D6","v":0.392},{"d":"2018-04-11","s":"D6","v":0.344},{"d":"2018-04-15","s":"D6","v":0.37},{"d":"2018-04-24","s":"D6","v":0.362},{"d":"2018-04-30","s":"D6","v":0.313},{"d":"2018-05-07","s":"D6","v":0.287},{"d":"2018-05-11","s":"D6","v":0.344},{"d":"2018-05-17","s":"D6","v":0.335},{"d":"2018-05-22","s":"D6","v":0.305},{"d":"2018-05-28","s":"D6","v":0.261},{"d":"2018-06-03","s":"D6","v":0.19},{"d":"2018-06-08","s":"D6","v":0.225},{"d":"2018-06-14","s":"D6","v":0.234},{"d":"2018-06-20","s":"D6","v":0.305},{"d":"2018-06-27","s":"D6","v":0.287},{"d":"2018-07-03","s":"D6","v":0.212},{"d":"2018-07-08","s":"D6","v":0.247},{"d":"2018-07-18","s":"D6","v":0.225},{"d":"2018-07-25","s":"D6","v":0.195},{"d":"2018-07-29","s":"D6","v":0.212},{"d":"2018-08-07","s":"D6","v":0.19},{"d":"2018-08-24","s":"D6","v":0.204},{"d":"2018-09-09","s":"D6","v":0.217},{"d":"2018-09-16","s":"D6","v":0.19},{"d":"2018-09-24","s":"D6","v":0.116},{"d":"2018-09-30","s":"D6","v":0.155},{"d":"2018-10-04","s":"D6","v":0.12},{"d":"2018-10-17","s":"D6","v":0.103},{"d":"2018-10-23","s":"D6","v":0.076},{"d":"2018-11-03","s":"D6","v":0.072},{"d":"2018-11-11","s":"D6","v":0.067},{"d":"2018-11-20","s":"D6","v":0.094},{"d":"2018-11-26","s":"D6","v":0.111},{"d":"2018-12-01","s":"D6","v":0.124},{"d":"2018-12-07","s":"D6","v":0.168},{"d":"2018-12-13","s":"D6","v":0.225},{"d":"2018-12-21","s":"D6","v":0.217},{"d":"2018-12-30","s":"D6","v":0.212},{"d":"2019-01-03","s":"D6","v":0.234},
      {"d":"2019-01-07","s":"D6","v":0.184},{"d":"2019-01-11","s":"D6","v":0.176},{"d":"2019-01-17","s":"D6","v":0.221},{"d":"2019-01-23","s":"D6","v":0.236},{"d":"2019-01-29","s":"D6","v":0.213},{"d":"2019-02-04","s":"D6","v":0.206},{"d":"2019-02-13","s":"D6","v":0.213},{"d":"2019-02-21","s":"D6","v":0.225},{"d":"2019-03-01","s":"D6","v":0.213},{"d":"2019-03-09","s":"D6","v":0.213},{"d":"2019-03-13","s":"D6","v":0.146},{"d":"2019-03-19","s":"D6","v":0.109},{"d":"2019-03-23","s":"D6","v":0.139},{"d":"2019-04-02","s":"D6","v":0.15},{"d":"2019-04-11","s":"D6","v":0.169},{"d":"2019-04-19","s":"D6","v":0.157},{"d":"2019-04-29","s":"D6","v":0.154},{"d":"2019-05-08","s":"D6","v":0.139},{"d":"2019-05-18","s":"D6","v":0.135},{"d":"2019-06-01","s":"D6","v":0.131},{"d":"2019-06-12","s":"D6","v":0.146},{"d":"2019-06-16","s":"D6","v":0.184},{"d":"2019-06-22","s":"D6","v":0.213},{"d":"2019-06-26","s":"D6","v":0.259},{"d":"2019-07-02","s":"D6","v":0.236},{"d":"2019-07-08","s":"D6","v":0.206},{"d":"2019-07-16","s":"D6","v":0.213},{"d":"2019-07-25","s":"D6","v":0.225},{"d":"2019-07-30","s":"D6","v":0.221},{"d":"2019-08-04","s":"D6","v":0.191},{"d":"2019-08-11","s":"D6","v":0.124},{"d":"2019-08-18","s":"D6","v":0.101},{"d":"2019-08-22","s":"D6","v":0.146},{"d":"2019-08-31","s":"D6","v":0.161},{"d":"2019-09-08","s":"D6","v":0.176},{"d":"2019-09-14","s":"D6","v":0.236},{"d":"2019-09-21","s":"D6","v":0.213},{"d":"2019-09-25","s":"D6","v":0.169},{"d":"2019-10-02","s":"D6","v":0.229},{"d":"2019-10-08","s":"D6","v":0.176},{"d":"2019-10-15","s":"D6","v":0.154},{"d":"2019-10-24","s":"D6","v":0.146},{"d":"2019-11-01","s":"D6","v":0.124},{"d":"2019-11-15","s":"D6","v":0.116},{"d":"2019-11-27","s":"D6","v":0.116},{"d":"2019-12-08","s":"D6","v":0.12},{"d":"2019-12-16","s":"D6","v":0.116},{"d":"2019-12-25","s":"D6","v":0.109},{"d":"2019-12-31","s":"D6","v":0.086},{"d":"2020-01-02","s":"D6","v":0.139},{"d":"2020-01-11","s":"D6","v":0.15},{"d":"2020-01-22","s":"D6","v":0.15},{"d":"2020-01-31","s":"D6","v":0.184},{"d":"2020-02-07","s":"D6","v":0.259},{"d":"2020-02-13","s":"D6","v":0.311},{"d":"2020-02-21","s":"D6","v":0.326},{"d":"2020-02-25","s":"D6","v":0.378},{"d":"2020-03-05","s":"D6","v":0.378},{"d":"2020-03-11","s":"D6","v":0.289},{"d":"2020-03-15","s":"D6","v":0.176},{"d":"2020-03-20","s":"D6","v":0.296},{"d":"2020-03-25","s":"D6","v":0.303},
      {"d":"2020-03-29","s":"D6","v":0.33},{"d":"2020-04-08","s":"D6","v":0.36},{"d":"2020-04-19","s":"D6","v":0.38},{"d":"2020-04-30","s":"D6","v":0.4},{"d":"2020-05-10","s":"D6","v":0.42},{"d":"2020-05-20","s":"D6","v":0.47},{"d":"2020-05-31","s":"D6","v":0.52},{"d":"2020-06-10","s":"D6","v":0.45},{"d":"2020-06-20","s":"D6","v":0.47},{"d":"2020-07-01","s":"D6","v":0.48},{"d":"2020-07-18","s":"D6","v":0.49},{"d":"2020-08-01","s":"D6","v":0.47},{"d":"2020-08-07","s":"D6","v":0.38},{"d":"2020-08-16","s":"D6","v":0.46},{"d":"2020-08-28","s":"D6","v":0.49},{"d":"2020-09-12","s":"D6","v":0.52},{"d":"2020-09-26","s":"D6","v":0.5},{"d":"2020-10-09","s":"D6","v":0.53},
      {"d":"2020-10-16","s":"D6","v":0.547},{"d":"2020-10-22","s":"D6","v":0.595},{"d":"2020-10-31","s":"D6","v":0.605},{"d":"2020-11-04","s":"D6","v":0.566},{"d":"2020-11-08","s":"D6","v":0.7},{"d":"2020-11-14","s":"D6","v":0.633},{"d":"2020-11-24","s":"D6","v":0.605},{"d":"2020-12-03","s":"D6","v":0.681},{"d":"2020-12-13","s":"D6","v":0.7},{"d":"2020-12-19","s":"D6","v":0.729},{"d":"2020-12-28","s":"D6","v":0.748},{"d":"2021-01-02","s":"D6","v":0.796},{"d":"2021-01-05","s":"D6","v":0.92},{"d":"2021-01-11","s":"D6","v":0.891},{"d":"2021-01-14","s":"D6","v":0.758},{"d":"2021-01-18","s":"D6","v":0.834},{"d":"2021-01-21","s":"D6","v":0.911},{"d":"2021-01-27","s":"D6","v":0.93},{"d":"2021-01-28","s":"D6","v":1.102},{"d":"2021-02-03","s":"D6","v":1.083},{"d":"2021-02-07","s":"D6","v":0.997},{"d":"2021-02-12","s":"D6","v":0.93},{"d":"2021-02-19","s":"D6","v":0.958},{"d":"2021-02-23","s":"D6","v":1.006},{"d":"2021-03-01","s":"D6","v":1.073},{"d":"2021-03-05","s":"D6","v":1.197},{"d":"2021-03-11","s":"D6","v":1.417},{"d":"2021-03-16","s":"D6","v":1.408},{"d":"2021-03-19","s":"D6","v":1.245},{"d":"2021-03-25","s":"D6","v":1.379},{"d":"2021-03-28","s":"D6","v":1.255},{"d":"2021-04-02","s":"D6","v":1.341},{"d":"2021-04-09","s":"D6","v":1.331},{"d":"2021-04-16","s":"D6","v":1.322},{"d":"2021-04-22","s":"D6","v":1.35},{"d":"2021-04-28","s":"D6","v":1.408},{"d":"2021-05-01","s":"D6","v":1.504},{"d":"2021-05-04","s":"D6","v":1.72},{"d":"2021-05-08","s":"D6","v":1.864},{"d":"2021-05-12","s":"D6","v":1.797},{"d":"2021-05-17","s":"D6","v":1.904},{"d":"2021-05-24","s":"D6","v":1.81},{"d":"2021-05-30","s":"D6","v":1.864},{"d":"2021-06-09","s":"D6","v":1.985},{"d":"2021-06-11","s":"D6","v":1.797}
    ]
  },
  "mark": {"type": "line", "strokeWidth": 11, "strokeJoin": "round", "strokeCap": "round"},
  "encoding": {
    "x": {
      "field": "d",
      "type": "temporal",
      "scale": {
        "type": "utc",
        "domain": [
          {"year": 2013, "month": 2, "date": 1, "utc": true},
          {"year": 2021, "month": 6, "date": 11, "utc": true}
        ],
        "nice": false
      },
      "axis": {
        "title": null,
        "grid": false,
        "domain": true,
        "domainColor": "#D9D9D9",
        "domainWidth": 3,
        "ticks": true,
        "tickColor": "#D9D9D9",
        "tickWidth": 3,
        "tickSize": 18,
        "labelExpr": "utcFormat(datum.value, '%b-%y')",
        "labelAngle": -45,
        "labelAlign": "right",
        "labelBaseline": "middle",
        "labelPadding": 24,
        "labelLimit": 400,
        "labelFont": "Liberation Sans",
        "labelFontSize": 45,
        "labelColor": "#595959",
        "labelOverlap": false,
        "labelFlush": false,
        "labelBound": false,
        "values": [
          {"year": 2013, "month": 2, "date": 1, "utc": true},
          {"year": 2013, "month": 5, "date": 1, "utc": true},
          {"year": 2013, "month": 8, "date": 1, "utc": true},
          {"year": 2013, "month": 11, "date": 1, "utc": true},
          {"year": 2014, "month": 2, "date": 1, "utc": true},
          {"year": 2014, "month": 5, "date": 1, "utc": true},
          {"year": 2014, "month": 8, "date": 1, "utc": true},
          {"year": 2014, "month": 11, "date": 1, "utc": true},
          {"year": 2015, "month": 2, "date": 1, "utc": true},
          {"year": 2015, "month": 5, "date": 1, "utc": true},
          {"year": 2015, "month": 8, "date": 1, "utc": true},
          {"year": 2015, "month": 11, "date": 1, "utc": true},
          {"year": 2016, "month": 2, "date": 1, "utc": true},
          {"year": 2016, "month": 5, "date": 1, "utc": true},
          {"year": 2016, "month": 8, "date": 1, "utc": true},
          {"year": 2016, "month": 11, "date": 1, "utc": true},
          {"year": 2017, "month": 2, "date": 1, "utc": true},
          {"year": 2017, "month": 5, "date": 1, "utc": true},
          {"year": 2017, "month": 8, "date": 1, "utc": true},
          {"year": 2017, "month": 11, "date": 1, "utc": true},
          {"year": 2018, "month": 2, "date": 1, "utc": true},
          {"year": 2018, "month": 5, "date": 1, "utc": true},
          {"year": 2018, "month": 8, "date": 1, "utc": true},
          {"year": 2018, "month": 11, "date": 1, "utc": true},
          {"year": 2019, "month": 2, "date": 1, "utc": true},
          {"year": 2019, "month": 5, "date": 1, "utc": true},
          {"year": 2019, "month": 8, "date": 1, "utc": true},
          {"year": 2019, "month": 11, "date": 1, "utc": true},
          {"year": 2020, "month": 2, "date": 1, "utc": true},
          {"year": 2020, "month": 5, "date": 1, "utc": true},
          {"year": 2020, "month": 8, "date": 1, "utc": true},
          {"year": 2020, "month": 11, "date": 1, "utc": true},
          {"year": 2021, "month": 2, "date": 1, "utc": true},
          {"year": 2021, "month": 5, "date": 1, "utc": true}
        ]
      }
    },
    "y": {
      "field": "v",
      "type": "quantitative",
      "scale": {"domain": [0, 2.06], "nice": false, "zero": true},
      "axis": {
        "title": null,
        "values": [0, 0.5, 1, 1.5, 2],
        "format": "$.2f",
        "grid": true,
        "gridColor": "#D9D9D9",
        "gridWidth": 3,
        "domain": false,
        "ticks": false,
        "tickSize": 0,
        "labelPadding": 48,
        "labelFont": "Liberation Sans",
        "labelFontSize": 47,
        "labelColor": "#595959",
        "labelAlign": "right",
        "labelBaseline": "middle"
      }
    },
    "color": {
      "field": "s",
      "type": "nominal",
      "scale": {"domain": ["D4", "D6"], "range": ["#5B9BD5", "#ED7D31"]},
      "legend": {
        "title": null,
        "orient": "none",
        "legendX": 1588,
        "legendY": 173,
        "direction": "horizontal",
        "symbolType": "stroke",
        "symbolSize": 7744,
        "symbolStrokeWidth": 11,
        "labelFont": "Liberation Sans",
        "labelFontSize": 60,
        "labelColor": "#595959",
        "labelOffset": 22,
        "columnPadding": 40
      }
    }
  }
}
